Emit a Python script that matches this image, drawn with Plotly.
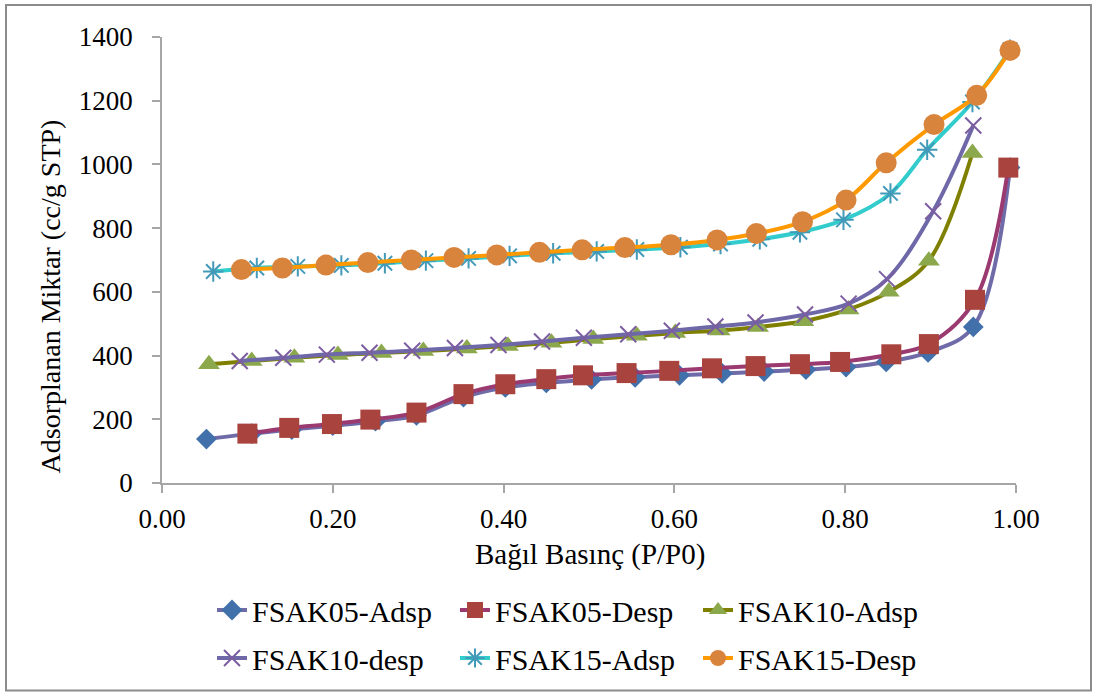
import plotly.graph_objects as go

# ---- data ----
x05a = [0.052, 0.105, 0.152, 0.200, 0.250, 0.298, 0.353, 0.402, 0.450, 0.503, 0.554, 0.606, 0.656, 0.705, 0.754, 0.801, 0.848, 0.897, 0.950, 0.993]
y05a = [138, 155, 168, 180, 194, 212, 270, 300, 314, 325, 332, 338, 344, 350, 356, 364, 380, 410, 490, 990]

x05d = [0.100, 0.149, 0.199, 0.244, 0.298, 0.353, 0.402, 0.450, 0.493, 0.544, 0.594, 0.644, 0.695, 0.747, 0.794, 0.854, 0.898, 0.952, 0.991]
y05d = [155, 173, 185, 199, 221, 279, 310, 326, 338, 345, 352, 360, 367, 373, 380, 404, 436, 575, 990]

x10a = [0.055, 0.105, 0.155, 0.206, 0.257, 0.306, 0.357, 0.405, 0.456, 0.505, 0.556, 0.601, 0.653, 0.698, 0.751, 0.804, 0.851, 0.898, 0.949]
y10a = [373, 383, 393, 402, 408, 414, 422, 430, 440, 452, 462, 471, 479, 490, 508, 545, 600, 698, 1036]

x10d = [0.091, 0.142, 0.193, 0.243, 0.293, 0.343, 0.394, 0.445, 0.494, 0.546, 0.597, 0.648, 0.695, 0.753, 0.804, 0.849, 0.903, 0.950]
y10d = [383, 393, 403, 409, 415, 424, 433, 444, 456, 467, 478, 491, 504, 529, 563, 640, 853, 1122]

x15a = [0.060, 0.111, 0.159, 0.210, 0.261, 0.309, 0.359, 0.407, 0.458, 0.509, 0.556, 0.607, 0.654, 0.700, 0.747, 0.798, 0.853, 0.896, 0.949, 0.993]
y15a = [664, 675, 680, 683, 690, 698, 705, 713, 721, 727, 733, 740, 750, 765, 787, 826, 909, 1046, 1196, 1360]

x15d = [0.093, 0.141, 0.192, 0.241, 0.292, 0.342, 0.392, 0.442, 0.492, 0.542, 0.596, 0.650, 0.696, 0.750, 0.801, 0.848, 0.904, 0.954, 0.993]
y15d = [670, 675, 684, 692, 700, 708, 716, 724, 732, 739, 748, 763, 783, 820, 888, 1005, 1125, 1217, 1358]

names = ["FSAK05-Adsp", "FSAK05-Desp", "FSAK10-Adsp", "FSAK10-desp", "FSAK15-Adsp", "FSAK15-Desp"]

FONT = "Liberation Serif, Times New Roman, serif"

# ---- layout geometry (pixels) ----
W, H = 1094, 695
L, R, T, B = 162, 78, 37, 211
PW = W - L - R
PH = H - T - B

def px_x(px):
    return (px - L) / PW

def px_y(py):
    return (H - B - py) / PH

fig = go.Figure()

def add(x, y, name, line_color, symbol, msize, mcolor, mline_color=None, mline_w=0, legend="legend"):
    fig.add_trace(go.Scatter(
        x=x, y=y, name=name, mode="lines+markers",
        line=dict(color=line_color, width=4, shape="spline", smoothing=1.0),
        marker=dict(symbol=symbol, size=msize, color=mcolor,
                    line=dict(color=mline_color if mline_color else mcolor, width=mline_w)),
        legend=legend, cliponaxis=False,
    ))

add(x05a, y05a, names[0], "#6E6BA8", "diamond", 16, "#4170AA")
add(x05d, y05d, names[1], "#9B3A70", "square", 20, "#A8433E")
add(x10a, y10a, names[2], "#7F8000", "triangle-up", 19, "#8CA84C")
add(x10d, y10d, names[3], "#6E68A8", "x-thin-open", 16, "#7B5DA0", "#7B5DA0", 2, legend="legend2")
add(x15a, y15a, names[4], "#33CCCC", "asterisk-open", 17, "#4299B8", "#4299B8", 2, legend="legend2")
add(x15d, y15d, names[5], "#FF9900", "circle", 21, "#D9843C", legend="legend2")

axis_common = dict(
    showline=True, linecolor="#A6A6A6", linewidth=1.5,
    ticks="outside", ticklen=8, tickcolor="#A6A6A6", tickwidth=1.5,
    showgrid=False, zeroline=False,
    tickfont=dict(family=FONT, size=27, color="black"),
)

legend_common = dict(orientation="h", xanchor="left", yanchor="middle",
                     font=dict(family=FONT, size=30, color="black"),
                     entrywidth=198, entrywidthmode="pixels", bgcolor="rgba(0,0,0,0)")

fig.update_layout(
    width=W, height=H,
    margin=dict(l=L, r=R, t=T, b=B),
    paper_bgcolor="white", plot_bgcolor="white",
    xaxis=dict(range=[0, 1], dtick=0.2, tick0=0, tickformat=".2f",
               ticklabelstandoff=3, **axis_common),
    yaxis=dict(range=[0, 1400], dtick=200, tick0=0,
               ticklabelstandoff=14, **axis_common),
    legend=dict(x=px_x(212), y=px_y(610), **legend_common),
    legend2=dict(x=px_x(212), y=px_y(658), **legend_common),
    showlegend=True,
)

# axis titles
fig.add_annotation(text="Bağıl Basınç (P/P0)", xref="paper", yref="paper",
                   x=px_x(590), y=px_y(556), showarrow=False,
                   font=dict(family=FONT, size=29, color="black"),
                   xanchor="center", yanchor="middle")
fig.add_annotation(text="Adsorplanan Miktar (cc/g STP)", xref="paper", yref="paper",
                   x=px_x(50), y=px_y(297), showarrow=False, textangle=-90,
                   font=dict(family=FONT, size=28, color="black"),
                   xanchor="center", yanchor="middle")

# chart border
fig.add_shape(type="rect", xref="paper", yref="paper",
              x0=px_x(6), x1=px_x(1091), y0=px_y(692), y1=px_y(5),
              line=dict(color="#8C8C8C", width=2), fillcolor="rgba(0,0,0,0)", layer="below")

fig.write_html("out.html")
